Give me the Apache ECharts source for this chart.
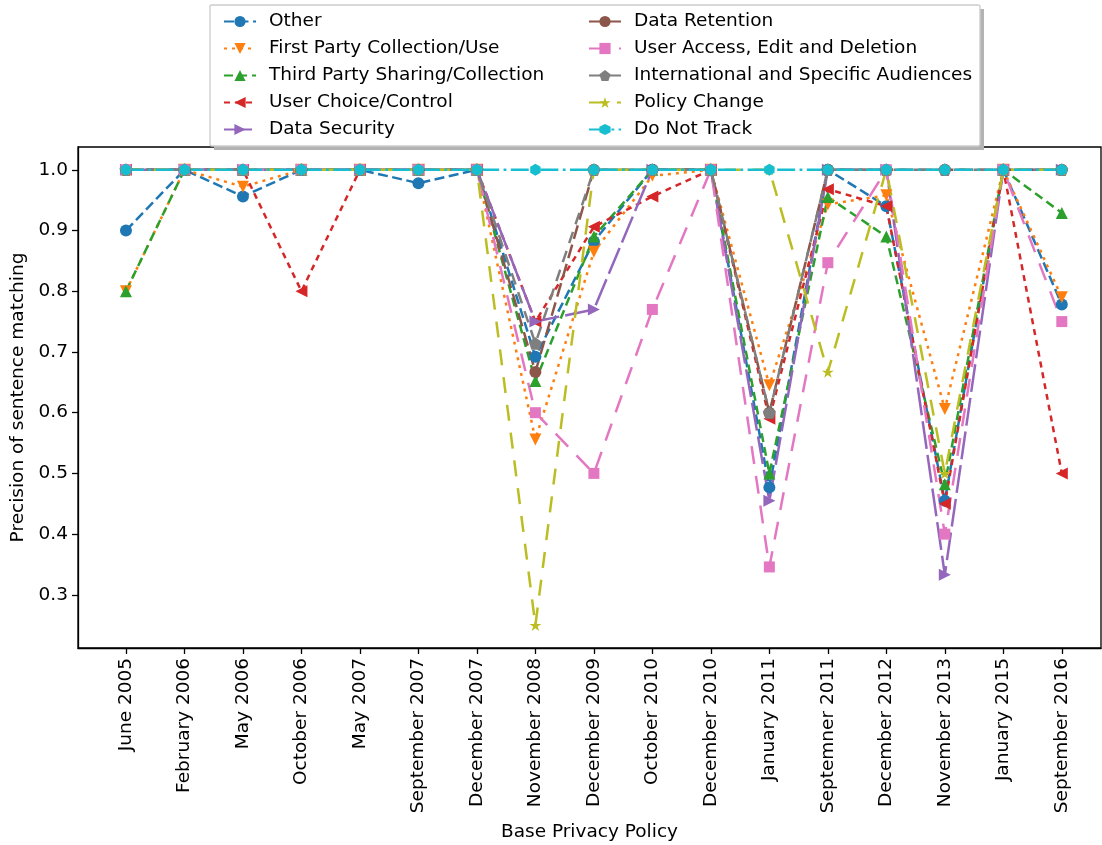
<!DOCTYPE html>
<html>
<head>
<meta charset="utf-8">
<script src="https://cdn.jsdelivr.net/npm/echarts@6/dist/echarts.min.js"></script>
<style>html,body{margin:0;padding:0;background:#fff;}#chart{width:1102px;height:845px;}</style>
</head>
<body>
<div id="chart"></div>
<script>
const categories = ['June 2005','February 2006','May 2006','October 2006','May 2007','September 2007','December 2007','November 2008','December 2009','October 2010','December 2010','January 2011','Septemner 2011','December 2012','November 2013','January 2015','September 2016'];
const yTicks = [0.3,0.4,0.5,0.6,0.7,0.8,0.9,1.0];
const seriesNames = ['Other','First Party Collection/Use','Third Party Sharing/Collection','User Choice/Control','Data Security','Data Retention','User Access, Edit and Deletion','International and Specific Audiences','Policy Change','Do Not Track'];
const other =         [0.90,1,0.956,1,1,0.978,1,0.692,0.882,1,1,0.477,1,0.94,0.455,1,0.778];
const firstParty =    [0.80,1,0.972,1,1,1,1,0.556,0.865,0.99,1,0.645,0.943,0.958,0.606,1,0.79];
const thirdParty =    [0.80,1,1,1,1,1,1,0.652,0.89,1,1,0.50,0.955,0.89,0.482,1,0.929];
const userChoice =    [1,1,1,0.80,1,1,1,0.75,0.906,0.956,1,0.59,0.968,0.94,0.45,1,0.50];
const dataSecurity =  [1,1,1,1,1,1,1,0.75,0.77,1,1,0.455,1,1,0.333,1,1];
const dataRetention = [1,1,1,1,1,1,1,0.667,1,1,1,0.60,1,1,1,1,1];
const userAccess =    [1,1,1,1,1,1,1,0.60,0.50,0.77,1,0.346,0.847,1,0.40,1,0.75];
const international = [1,1,1,1,1,1,1,0.714,1,1,1,0.60,1,1,1,1,1];
const policyChange =  [1,1,1,1,1,1,1,0.25,1,1,1,1,0.667,1,0.50,1,1];
const doNotTrack =    [1,1,1,1,1,1,1,1,1,1,1,1,1,1,1,1,1];
const allValues = [other, firstParty, thirdParty, userChoice, dataSecurity, dataRetention, userAccess, international, policyChange, doNotTrack];

const colors = ['#1f77b4','#ff7f0e','#2ca02c','#d62728','#9467bd','#8c564b','#e377c2','#7f7f7f','#bcbd22','#17becf'];
const pentagon = 'path://M0,-1 L0.951,-0.309 L0.588,0.809 L-0.588,0.809 L-0.951,-0.309 Z';
const hexagon = 'path://M0,-1 L0.866,-0.5 L0.866,0.5 L0,1 L-0.866,0.5 L-0.866,-0.5 Z';
const star = 'path://M0,-1 L0.2245,-0.309 L0.951,-0.309 L0.363,0.118 L0.588,0.809 L0,0.382 L-0.588,0.809 L-0.363,0.118 L-0.951,-0.309 L-0.2245,-0.309 Z';
const styles = [
  {symbol:'circle', size:12, rot:0, dash:[10,4.5]},
  {symbol:'triangle', size:12, rot:180, dash:[3,5]},
  {symbol:'triangle', size:12, rot:0, dash:[9,5]},
  {symbol:'triangle', size:12, rot:90, dash:[6,5]},
  {symbol:'triangle', size:12, rot:-90, dash:[28,6]},
  {symbol:'circle', size:12, rot:0, dash:[14,6]},
  {symbol:'rect', size:11, rot:0, dash:[18,12]},
  {symbol:pentagon, size:13, rot:0, dash:[12,8]},
  {symbol:star, size:12, rot:0, dash:[16,12]},
  {symbol:hexagon, size:12, rot:0, dash:[18,4.4,2.8,4.4]}
];

const series = allValues.map((vals, i) => ({
  name: seriesNames[i],
  type: 'line',
  data: vals.map((v, j) => [j, v]),
  symbol: styles[i].symbol,
  symbolSize: styles[i].size,
  symbolRotate: styles[i].rot,
  symbolKeepAspect: true,
  showAllSymbol: true,
  animation: false,
  lineStyle: {color: colors[i], width: 2.5, type: styles[i].dash},
  itemStyle: {color: colors[i], borderWidth: 0},
  emphasis: {disabled: true}
}));

const font = 'DejaVu Sans';
const legendBase = {
  orient: 'vertical', top: 7, itemWidth: 32, itemHeight: 14, itemGap: 8,
  textStyle: {fontFamily: font, fontSize: 18.5, color: '#000', padding: [0,0,0,8]},
  z: 200, selectedMode: false
};

const chart = echarts.init(document.getElementById('chart'), null, {renderer: 'canvas'});
chart.setOption({
  backgroundColor: '#fff',
  animation: false,
  color: colors,
  grid: {left: 78, right: 1, top: 147, bottom: 197, containLabel: false, outerBoundsMode: 'none', show: true, borderColor: '#000', borderWidth: 1.3, backgroundColor: 'transparent'},
  xAxis: {
    type: 'value', min: -0.82, max: 16.67,
    name: 'Base Privacy Policy', nameLocation: 'middle', nameGap: 175,
    nameTextStyle: {fontFamily: font, fontSize: 18.5, color: '#000'},
    axisLine: {show: true, onZero: false, lineStyle: {color: '#000', width: 1.3}},
    axisTick: {show: true, inside: false, length: 6, lineStyle: {color: '#000', width: 1.3}, customValues: categories.map((c, i) => i)},
    axisLabel: {rotate: 90, margin: 10, fontFamily: font, fontSize: 18.5, color: '#000', customValues: categories.map((c, i) => i), formatter: v => categories[Math.round(v)]},
    splitLine: {show: false}
  },
  yAxis: {
    type: 'value', min: 0.2125, max: 1.0375,
    name: 'Precision of sentence matching', nameLocation: 'middle', nameGap: 46, nameRotate: 90,
    nameTextStyle: {fontFamily: font, fontSize: 18.5, color: '#000'},
    axisLine: {show: true, onZero: false, lineStyle: {color: '#000', width: 1.3}},
    axisTick: {show: true, inside: false, length: 6, lineStyle: {color: '#000', width: 1.3}, customValues: yTicks},
    axisLabel: {margin: 10, fontFamily: font, fontSize: 18.5, color: '#000', customValues: yTicks, formatter: v => v.toFixed(1)},
    splitLine: {show: false}
  },
  legend: [
    Object.assign({}, legendBase, {left: 218, data: seriesNames.slice(0, 5)}),
    Object.assign({}, legendBase, {left: 583, data: seriesNames.slice(5)})
  ],
  graphic: [
    {type: 'rect', z: 150, shape: {x: 214, y: 9, width: 770, height: 141}, style: {fill: '#b3b3b3'}},
    {type: 'rect', z: 151, shape: {x: 210, y: 5, width: 770, height: 141, r: 2}, style: {fill: '#fff', stroke: '#cccccc', lineWidth: 1.3}}
  ],
  series: series
});
</script>
</body>
</html>
